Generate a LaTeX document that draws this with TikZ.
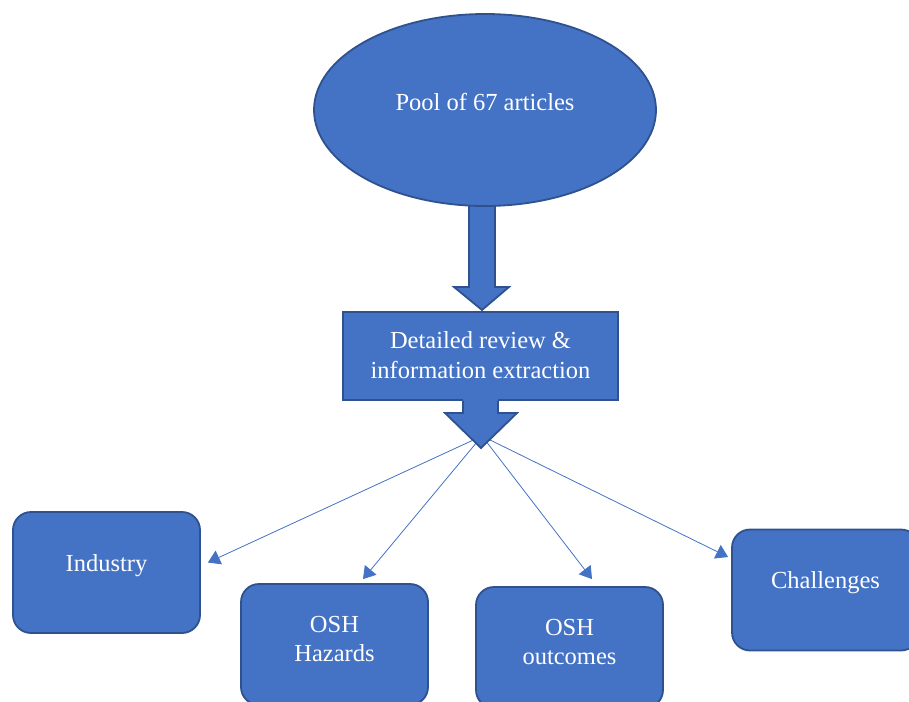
\documentclass[tikz,border=0pt]{standalone}
\usepackage{fontspec}
\setmainfont{Liberation Serif}
\usetikzlibrary{shapes.geometric,arrows.meta,calc}
\definecolor{boxblue}{HTML}{4472C4}
\definecolor{edgeblue}{HTML}{2F528F}
\tikzset{
  box/.style={draw=edgeblue,fill=boxblue,line width=1.8pt,rounded corners=18pt,
    minimum width=187pt,minimum height=121pt,inner sep=0pt},
  txt/.style={text=white,align=center,font=\fontsize{24.5}{29.5}\selectfont},
  lnk/.style={draw=boxblue,line width=0.8pt,-{Triangle[length=12pt,width=15pt]}},
  blk/.style={draw=edgeblue,fill=boxblue,line width=1.8pt,line join=miter}
}
\begin{document}
\begin{tikzpicture}[x=1pt,y=-1pt]
  \useasboundingbox (0,0) rectangle (909,701);
  \clip (0,0) rectangle (909,701);
  % wide arrow from the pool down to the review box
  \draw[blk] (469,200) -- (495,200) -- (495,287) -- (509,287) -- (482,310)
    -- (454,287) -- (469,287) -- cycle;
  \node[draw=edgeblue,fill=boxblue,line width=1.8pt,ellipse,minimum width=342pt,
    minimum height=192pt,inner sep=0pt] (pool) at (485,110) {};
  \node[txt] (poolt) at (485,102) {Pool of 67 articles};
  \node[draw=edgeblue,fill=boxblue,line width=1.8pt,minimum width=275pt,
    minimum height=88pt,inner sep=0pt] (rev) at (480.5,356) {};
  \node[txt] (revt) at (480.5,355) {Detailed review \&\\information extraction};
  % the four topic boxes
  \node[box] (ind) at (106.5,572.5) {};
  \node[txt] (indt) at (106.5,566) {Industry};
  \node[box] (haz) at (334.5,644.5) {};
  \node[txt] (hazt) at (334.5,639) {OSH\\Hazards};
  \node[box] (out) at (569.5,647.5) {};
  \node[txt] (outt) at (569.5,642) {OSH\\outcomes};
  \node[box] (chal) at (825.5,590) {};
  \node[txt] (chalt) at (825.5,583) {Challenges};
  % connectors
  \coordinate (src) at (482,436);
  \draw[lnk] (src) -- ($(ind.east)+(7,-10)$);
  \draw[lnk] (src) -- ($(haz.north)+(28.5,-4)$);
  \draw[lnk] (src) -- ($(out.north)+(22.5,-7)$);
  \draw[lnk] (src) -- ($(chal.west)+(-3,-33)$);
  % wide arrow out of the review box
  \fill[boxblue] (463,399.2) -- (498,399.2) -- (498,413) -- (517,413) -- (481,448)
    -- (445,413) -- (463,413) -- cycle;
  \draw[blk,fill=none] (463,400.9) -- (463,413) -- (445,413) -- (481,448)
    -- (517,413) -- (498,413) -- (498,400.9);
\end{tikzpicture}
\end{document}
